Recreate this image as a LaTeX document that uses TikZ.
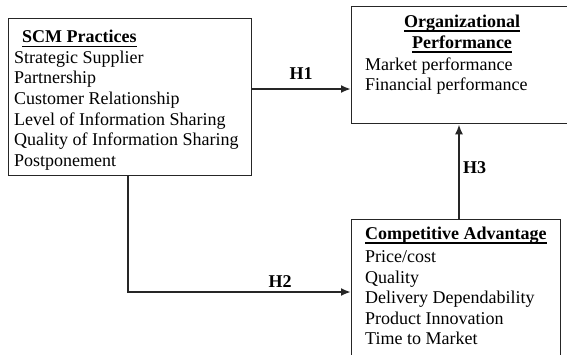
\documentclass[tikz,border=0pt]{standalone}
\usepackage{fontspec}
\setmainfont{Liberation Serif}
\usetikzlibrary{arrows.meta}

% bold heading with a heavy underline
\newcommand{\ulhead}[1]{\setbox0=\hbox{\bfseries #1}\rlap{\rule[-4.5pt]{\wd0}{1.3pt}}\box0}

\tikzset{
  box/.style={draw=black!85, line width=1.3pt, inner sep=0pt, anchor=north west},
  item/.style={anchor=base west, inner sep=0pt, font=\fontsize{18}{20}\selectfont},
  head/.style={inner sep=0pt, font=\fontsize{18}{20}\selectfont},
  link/.style={draw=black!85, line width=2.2pt, -{Latex[length=10pt,width=8pt]}},
  hyp/.style={inner sep=0pt, font=\fontsize{18}{20}\selectfont\bfseries}
}

\begin{document}
\begin{tikzpicture}[x=1pt,y=-1pt]
\clip (0,0) rectangle (567,354);

% the three boxes
\node[box, minimum width=243pt, minimum height=157pt] (scm) at (8,18) {};
\node[box, minimum width=222pt, minimum height=117pt] (perf) at (351,6) {};
\node[box, minimum width=209pt, minimum height=160pt] (adv) at (351,219) {};

% SCM practices
\node[head, anchor=base west] (scm-0) at (22,42.3) {\ulhead{SCM Practices}};
\foreach \t [count=\i] in {Strategic Supplier, Partnership, Customer Relationship,
    Level of Information Sharing, Quality of Information Sharing, Postponement}
  \node[item] (scm-\i) at (14,{42.3+20.7*\i}) {\t};

% organizational performance
\node[head, anchor=base] (perf-0a) at (462,27) {\ulhead{Organizational}};
\node[head, anchor=base] (perf-0b) at (462,48) {\ulhead{Performance}};
\node[item] (perf-1) at (365,70) {Market performance};
\node[item] (perf-2) at (365,90.5) {Financial performance};

% competitive advantage
\node[head, anchor=base west] (adv-0) at (365,239) {\ulhead{Competitive Advantage}};
\foreach \t [count=\i from 0] in {{Price/cost}, Quality, Delivery Dependability,
    Product Innovation, Time to Market}
  \node[item] (adv-\i) at (365,{262.7+20.5*\i}) {\t};

% hypotheses
\coordinate (h1) at (0,89);
\coordinate (h2) at (128,292);
\coordinate (h3) at (459,0);

\draw[link] (scm.east |- h1) -- (perf.west |- h1);
\draw[link] (scm.south -| h2) |- (adv.west |- h2);
\draw[link] (adv.north -| h3) -- (perf.south -| h3);

\node[hyp, anchor=base] (h1-lbl) at (301,79) {H1};
\node[hyp, anchor=base] (h2-lbl) at (280,287) {H2};
\node[hyp, anchor=base west] (h3-lbl) at (463,173) {H3};
\end{tikzpicture}
\end{document}
